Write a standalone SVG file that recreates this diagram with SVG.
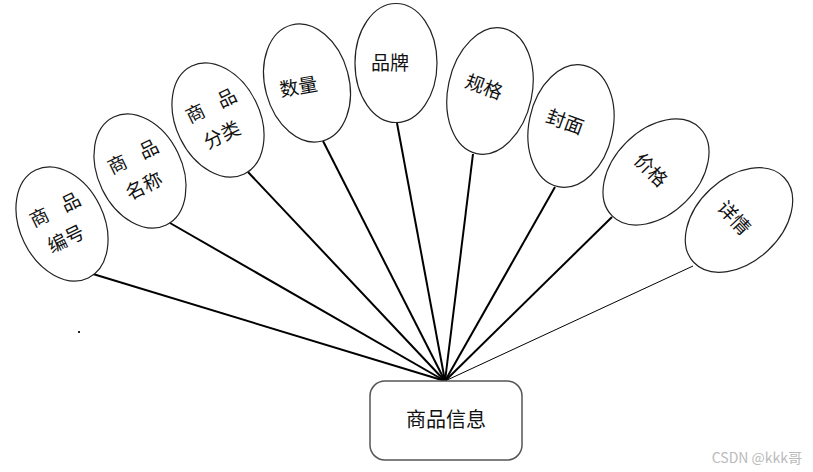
<svg xmlns="http://www.w3.org/2000/svg" width="813" height="472" viewBox="0 0 813 472">
<style>
.ell{fill:#fff;stroke:#222;stroke-width:1.2}
.lbl{font-family:"Noto Sans CJK SC","Noto Sans",sans-serif;font-size:19px;fill:#111;text-anchor:middle}
.conn line{stroke:#000;stroke-width:2}
.box{fill:#fff;stroke:#555;stroke-width:1.5}
</style>
<rect width="813" height="472" fill="#fff"/>
<g class="conn" id="connectors">
<line x1="93" y1="274" x2="445" y2="381"/>
<line x1="170" y1="223" x2="445" y2="381"/>
<line x1="248" y1="172" x2="445" y2="381"/>
<line x1="323" y1="141" x2="445" y2="381"/>
<line x1="397" y1="123" x2="445" y2="381"/>
<line x1="473" y1="154" x2="445" y2="381"/>
<line x1="555" y1="187" x2="445" y2="381"/>
<line x1="612" y1="217" x2="445" y2="381"/>
<line x1="693" y1="266" x2="445" y2="381" style="stroke-width:1"/>
</g>
<g id="n1" transform="translate(62,224) rotate(-26)">
<ellipse class="ell" rx="42" ry="60"/>
<text class="lbl" y="-9" xml:space="preserve" word-spacing="12">商 品</text>
<text class="lbl" x="-3" y="22">编号</text>
</g>
<g id="n2" transform="translate(140,171) rotate(-26)">
<ellipse class="ell" rx="42" ry="60"/>
<text class="lbl" y="-9" xml:space="preserve" word-spacing="12">商 品</text>
<text class="lbl" x="-3" y="22">名称</text>
</g>
<g id="n3" transform="translate(218,120) rotate(-26)">
<ellipse class="ell" rx="42" ry="60"/>
<text class="lbl" y="-9" xml:space="preserve" word-spacing="12">商 品</text>
<text class="lbl" x="-3" y="22">分类</text>
</g>
<g id="n4" transform="translate(307,83) rotate(-15)">
<ellipse class="ell" rx="42" ry="60"/>
<text class="lbl" x="-9" y="9" transform="rotate(5)">数量</text>
</g>
<g id="n5" transform="translate(396,63)">
<ellipse class="ell" rx="41" ry="59.5"/>
<text class="lbl" x="-6" y="7">品牌</text>
</g>
<g id="n6" transform="translate(490,91) rotate(12)">
<ellipse class="ell" rx="42" ry="64"/>
<text class="lbl" x="-7" y="5" transform="rotate(8)">规格</text>
</g>
<g id="n7" transform="translate(571,126) rotate(12)">
<ellipse class="ell" rx="42" ry="62"/>
<text class="lbl" x="-7" y="5" transform="rotate(8)">封面</text>
</g>
<g id="n8" transform="translate(656,172) rotate(45)">
<ellipse class="ell" rx="42" ry="62"/>
<text class="lbl" x="-5" y="9">价格</text>
</g>
<g id="n9" transform="translate(739,220) rotate(47)">
<ellipse class="ell" rx="42" ry="62"/>
<text class="lbl" x="-5" y="9">详情</text>
</g>
<g id="main">
<rect class="box" x="370" y="381" width="152" height="79" rx="15"/>
<text class="lbl" x="446" y="427" style="font-size:20px">商品信息</text>
</g>
<rect x="78" y="331" width="2" height="2" fill="#222"/>
<text x="802" y="463" style="font-family:'Noto Sans CJK SC','Liberation Sans',sans-serif;font-size:14px;fill:#bbb;text-anchor:end">CSDN @kkk哥</text>
</svg>
